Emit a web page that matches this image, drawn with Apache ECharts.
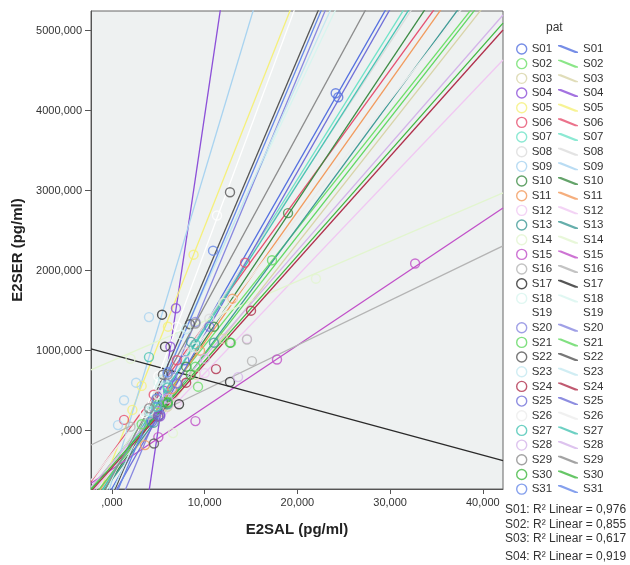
<!DOCTYPE html>
<html><head><meta charset="utf-8">
<script src="https://cdn.jsdelivr.net/npm/echarts@6/dist/echarts.min.js"></script>
<style>html,body{margin:0;padding:0;background:#fff;overflow:hidden}#c{width:630px;height:565px}</style>
</head><body><div id="c"></div><script>
const FONT = '"Liberation Sans", Arial, sans-serif';
const subjects = ['S01','S02','S03','S04','S05','S06','S07','S08','S09','S10','S11','S12','S13','S14','S15','S16','S17','S18','S19','S20','S21','S22','S23','S24','S25','S26','S27','S28','S29','S30','S31'];
const colors = ['#5470e0','#6ee06a','#d8d4a8','#8c4fd8','#f5f07a','#e64f6e','#6fe3c8','#dcdcdc','#a8d3f0','#3d8c45','#f29a5c','#f0c8f2','#3f9a96','#e2f5cf','#c150c8','#b4b4b4','#2a2a2a','#d8f5ef','#ffffff','#8888e0','#62d862','#555555','#c4e8f0','#b0304c','#7070d8','#ececec','#48c4b4','#d4b4ea','#8c8c8c','#40b840','#6688e8'];
// fit line per subject: E2SER = intercept + slope * E2SAL
const slopes =     [202.7,146.0,147.3,782,293.1,159.4,184.9,176.4,385.8,173.7,163.2,121.7,157.4,49.8,77.4,56.0,-31.4,243.1,311.7,277.8,147.8,273.2,255.9,129.7,203.4,147.3,181.4,132.7,213.3,131.2,273.2];
const intercepts = [-722,-394,-604,-3880,-379,-275,-558,-438,-624,-600,-528,-499,-611,872,-482,-52,950,-603,-874,-1139,-526,-825,-773,-462,-834,-286,-548,-401,-575,-439,-914];
const rSquared = ['0,976','0,855','0,617','0,919'];
const xTicks = [0,10,20,30,40];
const yTicks = [0,1000,2000,3000,4000,5000];
const xMin = -2.265, xMax = 42.18, yMin = -729, yMax = 5246;

const S01pts = [[24.13,4218],[24.41,4168],[5.2,200],[7.8,880],[4.3,110]];
const S02pts = [[12.84,1100],[9.28,550],[5.0,330],[3.2,80]];
const S03pts = [[6.0,300],[9.0,700],[12.0,1150]];
const S04pts = [[6.9,1530],[5.6,500],[5.2,180],[6.3,1050]];
const S05pts = [[6.04,1300],[3.2,560],[2.2,260],[8.8,2200]];
const S06pts = [[14.35,2100],[1.3,135],[7.0,880],[4.5,450]];
const S07pts = [[6.0,570],[8.8,1050],[4.2,230]];
const S08pts = [[5.0,440],[8.0,980],[10.5,1400]];
const S09pts = [[3.99,1420],[1.3,380],[0.65,70],[2.6,600]];
const S10pts = [[18.99,2720],[5.5,360],[8.0,800],[11.0,1300]];
const S11pts = [[3.56,-180],[6.5,520],[9.5,1000],[13.0,1650]];
const S12pts = [[7.0,350],[10.0,720],[14.56,1150]];
const S13pts = [[8.52,1110],[6.0,330],[11.0,1100],[4.5,100]];
const S14pts = [[6.58,-30],[2.0,900],[12.0,1600],[22.0,1900]];
const S15pts = [[32.7,2090],[17.8,890],[5.0,-80],[9.0,120]];
const S16pts = [[15.1,870],[14.56,1140],[4.0,200],[2.0,50]];
const S17pts = [[5.4,1450],[5.72,1050],[12.73,610],[7.23,330]];
const S18pts = [[5.0,610],[7.5,1200],[3.5,250]];
const S19pts = [[11.33,2690],[5.0,680],[7.0,1300],[3.5,220]];
const S20pts = [[6.5,670],[9.0,1360],[5.0,250]];
const S21pts = [[17.26,2130],[6.0,360],[9.0,800]];
const S22pts = [[12.73,2980],[8.4,1330],[4.53,-160],[5.5,700]];
const S23pts = [[5.5,640],[8.0,1270],[4.0,250]];
const S24pts = [[11.22,770],[5.0,180],[8.0,600],[15.0,1500]];
const S25pts = [[7.0,590],[10.5,1300],[5.0,180]];
const S26pts = [[5.0,450],[9.0,1040],[13.0,1630]];
const S27pts = [[3.99,920],[6.0,540],[9.0,1080],[4.8,300]];
const S28pts = [[13.6,670],[6.0,400],[10.0,900]];
const S29pts = [[6.0,700],[9.0,1340],[4.0,280]];
const S30pts = [[12.73,1100],[6.0,350],[8.5,700]];
const S31pts = [[10.9,2250],[6.0,730],[4.8,400]];
const allPts = [S01pts,S02pts,S03pts,S04pts,S05pts,S06pts,S07pts,S08pts,S09pts,S10pts,S11pts,S12pts,S13pts,S14pts,S15pts,S16pts,S17pts,S18pts,S19pts,S20pts,S21pts,S22pts,S23pts,S24pts,S25pts,S26pts,S27pts,S28pts,S29pts,S30pts,S31pts];

function fmt(v){ let s = Number(v).toFixed(3).replace('.', ','); if (s.startsWith('0,')) s = s.slice(1); return s; }

const series = [];
subjects.forEach((s,i)=>{
  series.push({name:s, type:'scatter', data: allPts[i], symbol:'circle', symbolSize:9, z:3,
    itemStyle:{color:'rgba(0,0,0,0)', borderColor: colors[i], borderWidth:1.4}, silent:true});
});
subjects.forEach((s,i)=>{
  series.push({name:s, type:'line', data:[[xMin, intercepts[i]+slopes[i]*xMin],[xMax, intercepts[i]+slopes[i]*xMax]],
    symbol:'none', showSymbol:false, clip:true, z:2, silent:true,
    lineStyle:{color: colors[i], width:1.3}, itemStyle:{color: colors[i]}});
});

const linePath = 'path://M0,0 L3,0 L20,6.8 L20,8 L17,8 L0,1.2 Z';
const chart = echarts.init(document.getElementById('c'), null, {renderer:'canvas'});
chart.setOption({
  animation:false,
  backgroundColor:'#ffffff',
  textStyle:{fontFamily: FONT},
  title:{text:'pat', left:541, top:17, textStyle:{fontSize:12, fontWeight:'normal', color:'#333', fontFamily: FONT}},
  grid:{left:91, right:127, top:11, bottom:76, show:true, backgroundColor:'#eef1f1', borderColor:'#666', borderWidth:1, containLabel:false},
  xAxis:{type:'value', min:xMin, max:xMax,
    axisLine:{show:true, onZero:false, lineStyle:{color:'#555', width:1}},
    axisTick:{show:true, customValues:xTicks, length:5, lineStyle:{color:'#555'}},
    axisLabel:{customValues:xTicks, formatter:fmt, fontSize:11, color:'#333', margin:8, fontFamily:FONT},
    splitLine:{show:false},
    name:'E2SAL (pg/ml)', nameLocation:'middle', nameGap:33,
    nameTextStyle:{fontSize:15, fontWeight:'bold', color:'#222', fontFamily:FONT}},
  yAxis:{type:'value', min:yMin, max:yMax,
    axisLine:{show:true, onZero:false, lineStyle:{color:'#555', width:1}},
    axisTick:{show:true, customValues:yTicks, length:6, lineStyle:{color:'#555'}},
    axisLabel:{customValues:yTicks, formatter:fmt, fontSize:11, color:'#333', margin:9, fontFamily:FONT},
    splitLine:{show:false},
    name:'E2SER (pg/ml)', nameLocation:'middle', nameGap:66,
    nameTextStyle:{fontSize:15, fontWeight:'bold', color:'#222', fontFamily:FONT}},
  legend:[
    {orient:'vertical', left:511, top:37, itemWidth:10, itemHeight:10, itemGap:0.67, selectedMode:false,
     textStyle:{fontSize:11.5, color:'#333', lineHeight:14, fontFamily:FONT},
     data: subjects.map((s,i)=>({name:s, icon:'circle', itemStyle:{color:'rgba(0,0,0,0)', borderColor:colors[i], borderWidth:1.4}}))},
    {orient:'vertical', left:553, top:37, itemWidth:20, itemHeight:8, itemGap:0.67, selectedMode:false,
     textStyle:{fontSize:11.5, color:'#333', lineHeight:14, fontFamily:FONT},
     data: subjects.map((s,i)=>({name:s, icon:linePath, itemStyle:{color:colors[i], borderWidth:0}}))}
  ],
  graphic: rSquared.map((r,i)=>({type:'text', left:505, top:(i===3 ? 551 : 504 + i*14.5), silent:true,
    style:{text: subjects[i] + ': R² Linear = ' + r, fill:'#333', font:'12px ' + FONT}})),
  series: series
});
</script></body></html>
